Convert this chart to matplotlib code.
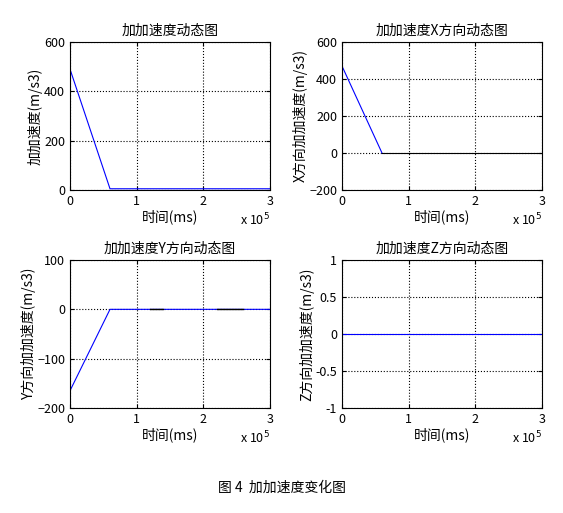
import numpy as np
import matplotlib.pyplot as plt

plt.rcParams['font.family'] = ['Noto Sans CJK SC', 'DejaVu Sans']
plt.rcParams['font.size'] = 9

# data (time in units of 1e5 ms)
t1 = [0, 0.6, 3.0]
j_total = [490, 5, 5]
t2 = [0, 0.6]
jx = [470, 0]
t3 = [0, 0.6, 3.0]
jy = [-165, 0, 0]
t4 = [0, 3.0]
jz = [0, 0]

titles = ['加加速度动态图', '加加速度X方向动态图', '加加速度Y方向动态图', '加加速度Z方向动态图']
ylabels = ['加加速度(m/s3)', 'X方向加加速度(m/s3)', 'Y方向加加速度(m/s3)', 'Z方向加加速度(m/s3)']
ylims = [(0, 600), (-200, 600), (-200, 100), (-1, 1)]
yticks = [[0, 200, 400, 600], [-200, 0, 200, 400, 600], [-200, -100, 0, 100], [-1, -0.5, 0, 0.5, 1]]
yticklabels = [None, None, None, ['-1', '-0.5', '0', '0.5', '1']]

W, H = 563, 513
fig = plt.figure(figsize=(W / 100, H / 100), dpi=100)
boxes = [(70, 42), (342, 42), (70, 260), (342, 260)]
axes = []
for (x0, y0) in boxes:
    ax = fig.add_axes([x0 / W, 1 - (y0 + 148) / H, 200 / W, 148 / H])
    axes.append(ax)

axes[0].plot(t1, j_total, color='blue', lw=0.8)
axes[1].plot(t2, jx, color='blue', lw=0.8)
axes[1].plot([0.6, 3.0], [0, 0], color='black', lw=0.8)
axes[2].plot(t3, jy, color='blue', lw=0.8)
axes[2].plot([1.2, 1.4], [1.5, 1.5], color='black', lw=1.0)
axes[2].plot([2.2, 2.6], [1.5, 1.5], color='black', lw=1.0)
axes[3].plot(t4, jz, color='blue', lw=0.8)

for ax, ti, yl, lim, yt, ytl in zip(axes, titles, ylabels, ylims, yticks, yticklabels):
    ax.set_xlim(0, 3)
    ax.set_ylim(*lim)
    ax.set_xticks([0, 1, 2, 3])
    ax.set_yticks(yt)
    if ytl:
        ax.set_yticklabels(ytl)
    ax.grid(True, color='black', linestyle=':', lw=0.8)
    ax.set_title(ti, fontsize=10, pad=5)
    ax.set_xlabel('时间(ms)', fontsize=10, labelpad=1)
    ax.set_ylabel(yl, fontsize=10, labelpad=1)
    ax.tick_params(direction='in', top=True, right=True, length=3)
    ax.text(1.0, -0.2, r'x 10$^5$', transform=ax.transAxes, ha='right', va='center', fontsize=9)

fig.text(0.5, 1 - 488 / H, '图 4  加加速度变化图', ha='center', va='center', fontsize=10)
fig.savefig('out.png', dpi=100)
